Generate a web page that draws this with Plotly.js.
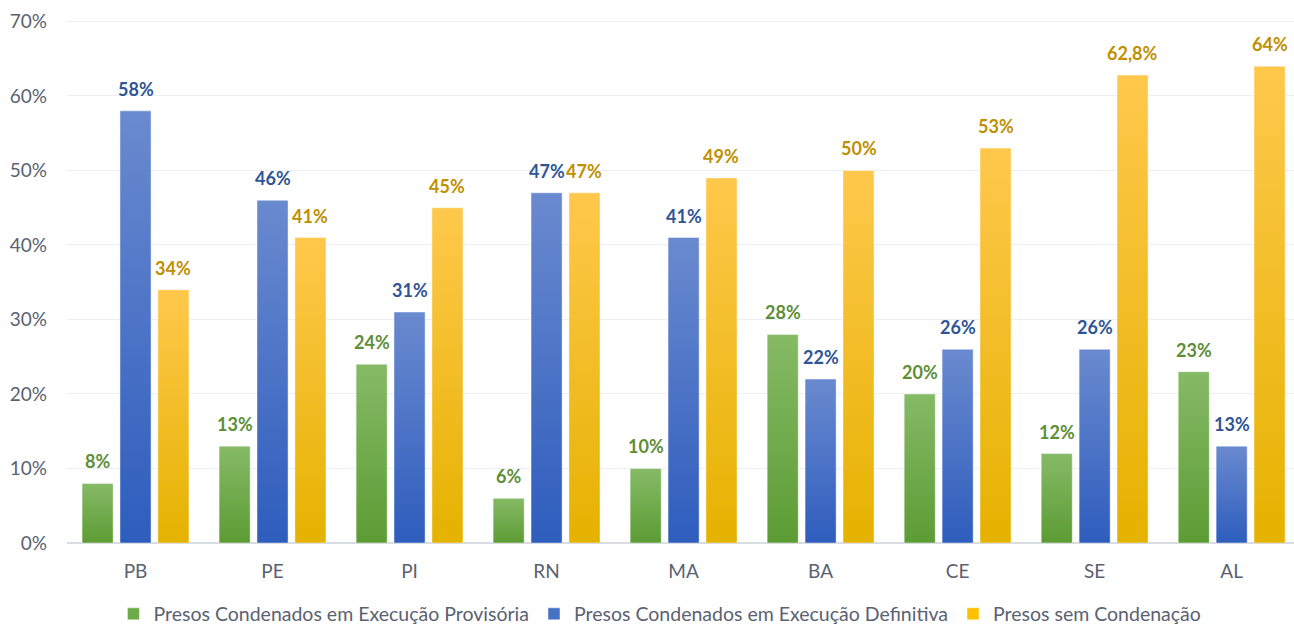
<!DOCTYPE html>
<html>
<head>
<meta charset="utf-8">
<script src="https://cdn.plot.ly/plotly-3.0.1.min.js"></script>
<style>
  html, body { margin: 0; padding: 0; background: #ffffff; }
  #chart { width: 1294px; height: 628px; }
</style>
</head>
<body>
<div id="chart"></div>
<script>
// States (categories)
const states = ['PB', 'PE', 'PI', 'RN', 'MA', 'BA', 'CE', 'SE', 'AL'];

// Share of prisoners by situation, in percent
const provisoria = [8, 13, 24, 6, 10, 28, 20, 12, 23];
const definitiva = [58, 46, 31, 47, 41, 22, 26, 26, 13];
const semCondenacao = [34, 41, 45, 47, 49, 50, 53, 62.8, 64];

const seriesNames = [
  'Presos Condenados em Execução Provisória',
  'Presos Condenados em Execução Definitiva',
  'Presos sem Condenação'
];

const FONT = 'Lato, "Open Sans", "Liberation Sans", sans-serif';
const BARGAP = 0.17;
const GROUPGAP = 0.18;

// fill: solid colour (legend), gradient stops (bars), label colour
const styles = [
  { solid: '#6EAA48', top: '#86BA66', bottom: '#5C9C34', label: '#5E8E36', id: 'gradGreen' },
  { solid: '#4472C4', top: '#6A8ACF', bottom: '#2E5DBD', label: '#2F5597', id: 'gradBlue' },
  { solid: '#FFC000', top: '#FFC84C', bottom: '#E5B200', label: '#BF9000', id: 'gradYellow' }
];

const seriesValues = [provisoria, definitiva, semCondenacao];

function fmt(v) {
  return String(v).replace('.', ',') + '%';
}

const traces = seriesValues.map((vals, i) => ({
  type: 'bar',
  name: seriesNames[i],
  x: states,
  y: vals,
  marker: {
    color: styles[i].solid,
    line: { color: 'rgba(255,255,255,0.45)', width: 1 }
  },
  hoverinfo: 'skip'
}));

// value labels above each bar, placed at the bar's slot inside the group
const slot = (1 - BARGAP) / 3;
const annotations = [];
seriesValues.forEach((vals, i) => {
  vals.forEach((v, k) => {
    annotations.push({
      xref: 'x', yref: 'y',
      x: k + (i - 1) * slot,
      y: v,
      text: '<b>' + fmt(v) + '</b>',
      showarrow: false,
      xanchor: 'center',
      yanchor: 'bottom',
      yshift: 9,
      font: { family: FONT, size: 18, color: styles[i].label }
    });
  });
});

const layout = {
  width: 1294,
  height: 628,
  margin: { l: 67, r: 0, t: 14, b: 85 },
  paper_bgcolor: '#ffffff',
  plot_bgcolor: '#ffffff',
  barmode: 'group',
  bargap: BARGAP,
  bargroupgap: GROUPGAP,
  font: { family: FONT, size: 19, color: '#5A6272' },
  xaxis: {
    type: 'category',
    range: [-0.5, 8.455],
    showgrid: false,
    showline: false,
    ticks: '',
    ticklabelstandoff: 15,
    tickfont: { family: FONT, size: 19, color: '#5A6272' },
    fixedrange: true
  },
  yaxis: {
    range: [0, 71],
    dtick: 10,
    ticksuffix: '%',
    showgrid: true,
    gridcolor: '#EBEEF2',
    gridwidth: 1,
    zeroline: true,
    zerolinecolor: '#D9DCE1',
    zerolinewidth: 2,
    showline: false,
    ticks: '',
    ticklabelstandoff: 19,
    tickfont: { family: FONT, size: 19, color: '#5A6272' },
    fixedrange: true
  },
  showlegend: true,
  legend: {
    orientation: 'h',
    xref: 'container',
    yref: 'container',
    x: 0.51,
    xanchor: 'center',
    y: 0.022,
    yanchor: 'middle',
    font: { family: FONT, size: 19.5, color: '#5A6272' },
    itemwidth: 30,
    tracegroupgap: 0,
    bgcolor: 'rgba(0,0,0,0)'
  },
  annotations: annotations
};

// vertical gradient fills for the bars, lighter at the top
function applyGradients(gd) {
  const svg = gd.querySelector('svg.main-svg');
  if (!svg) return;
  let defs = svg.querySelector('defs');
  if (!defs) {
    defs = document.createElementNS('http://www.w3.org/2000/svg', 'defs');
    svg.insertBefore(defs, svg.firstChild);
  }
  styles.forEach(s => {
    if (svg.querySelector('#' + s.id)) return;
    const g = document.createElementNS('http://www.w3.org/2000/svg', 'linearGradient');
    g.setAttribute('id', s.id);
    g.setAttribute('x1', '0'); g.setAttribute('y1', '0');
    g.setAttribute('x2', '0'); g.setAttribute('y2', '1');
    [[0, s.top], [1, s.bottom]].forEach(([off, col]) => {
      const st = document.createElementNS('http://www.w3.org/2000/svg', 'stop');
      st.setAttribute('offset', off);
      st.setAttribute('stop-color', col);
      g.appendChild(st);
    });
    defs.appendChild(g);
  });
  const barTraces = gd.querySelectorAll('.barlayer .trace');
  barTraces.forEach((t, i) => {
    t.querySelectorAll('path').forEach(p => {
      p.style.fill = 'url(#' + styles[i].id + ')';
    });
  });
}

const gd = document.getElementById('chart');
Plotly.newPlot(gd, traces, layout, { displayModeBar: false, staticPlot: true })
  .then(() => applyGradients(gd));
</script>
</body>
</html>
